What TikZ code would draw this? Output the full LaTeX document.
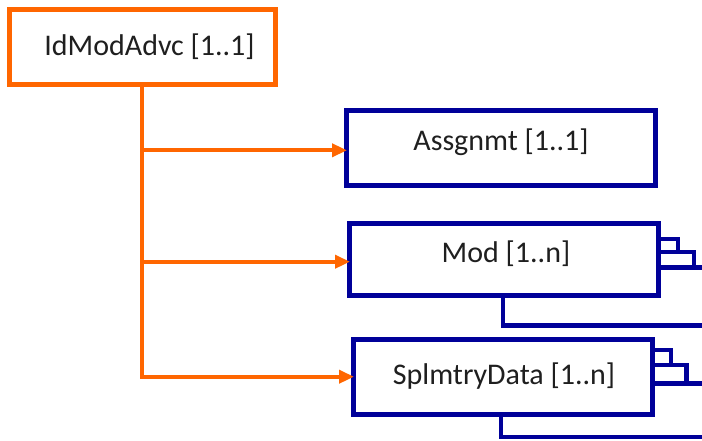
\documentclass[tikz,border=0pt]{standalone}
\usepackage{fontspec}
\setmainfont{Carlito}
\usetikzlibrary{arrows.meta}
\definecolor{orng}{RGB}{255,102,0}
\definecolor{dblue}{RGB}{0,0,153}
\begin{document}
\begin{tikzpicture}[x=1pt,y=-1pt,
  obox/.style={draw=orng,line width=5pt,rectangle,inner sep=0pt,outer sep=0pt},
  bbox/.style={draw=dblue,line width=4.6pt,rectangle,inner sep=0pt,outer sep=0pt},
  lbl/.style={font=\fontsize{30}{36}\selectfont,text=black!88,anchor=base,inner sep=0pt},
  oarrow/.style={draw=orng,line width=4pt,line join=miter,shorten >=-0.5pt,-{Triangle[length=15pt,width=13pt]}},
  bline/.style={draw=dblue,line width=4.3pt,line join=miter}]
\useasboundingbox (0,0) rectangle (702,440);
% boxes
\node[obox,minimum width=266pt,minimum height=74.5pt] (root) at (142.7,47) {};
\node[bbox,minimum width=309pt,minimum height=75pt] (b1) at (501,148) {};
\node[bbox,minimum width=309pt,minimum height=72pt] (b2) at (504,259.5) {};
\node[bbox,minimum width=299pt,minimum height=75pt] (b3) at (503,377) {};
% labels
\node[lbl] (t0) at (149.5,55) {IdModAdvc [1..1]};
\node[lbl] (t1) at (501,150) {Assgnmt [1..1]};
\node[lbl] (t2) at (506,262) {Mod [1..n]};
\node[lbl] (t3) at (504,384) {SplmtryData [1..n]};
% orange connectors
\coordinate (j1) at (142,150.3);
\coordinate (j2) at (142,261.7);
\coordinate (j3) at (142,376.7);
\draw[oarrow] (142,0 |- root.south) -- (j3) -- (b3.west |- j3);
\draw[oarrow] (j1) -- (b1.west |- j1);
\draw[oarrow] (j2) -- (b2.west |- j2);
% decorations box 2
\draw[bline] (b2.east |- 0,238.7) -| (678,252);
\draw[bline] (b2.east |- 0,252) -| (694,267.5);
\draw[bline] (b2.east |- 0,267.5) -- (705,267.5);
\draw[bline] (503,0 |- b2.south) -- (503,325.5) -- (705,325.5);
% decorations box 3
\draw[bline] (b3.east |- 0,350) -| (671,365);
\draw[bline] (b3.east |- 0,365) -| (686.5,383.5);
\draw[bline] (b3.east |- 0,383.5) -- (705,383.5);
\draw[bline] (501,0 |- b3.south) -- (501,437) -- (705,437);
\end{tikzpicture}
\end{document}
